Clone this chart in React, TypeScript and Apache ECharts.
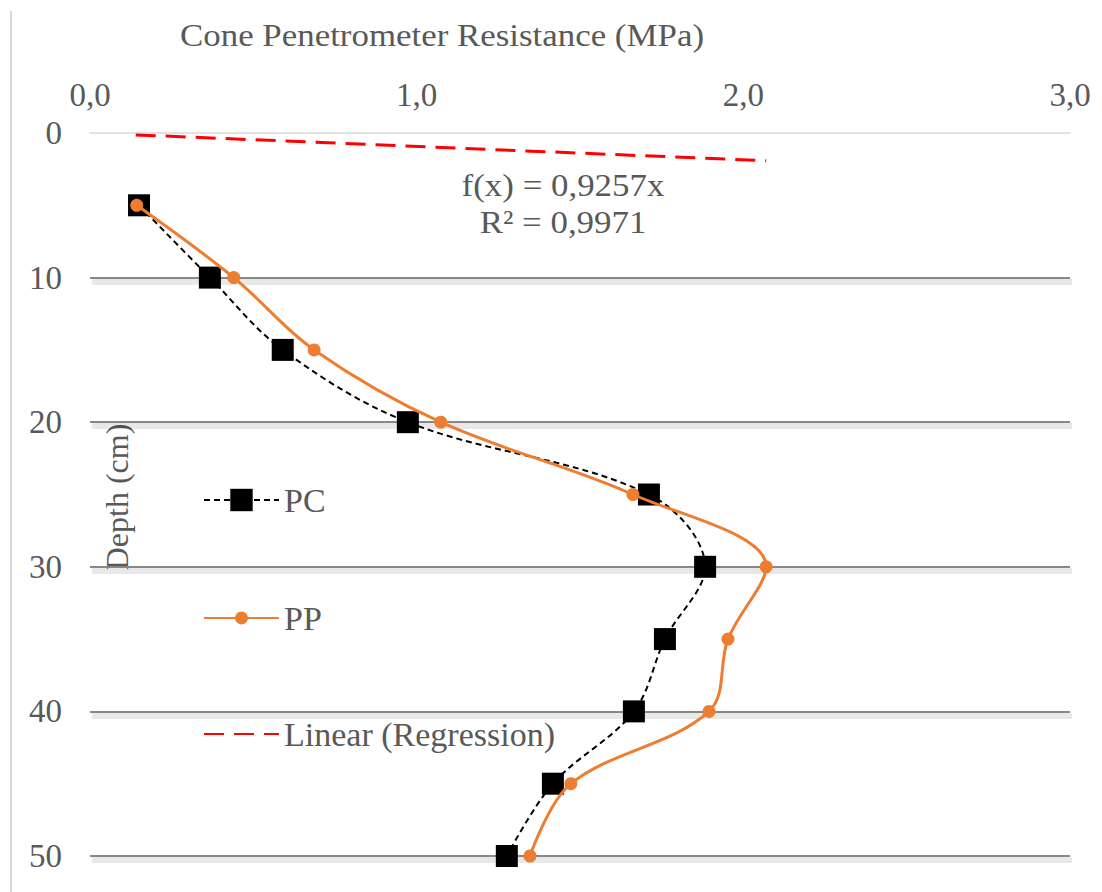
import React, { useEffect, useRef } from "react";
import * as echarts from "echarts";

const depths = [5, 10, 15, 20, 25, 30, 35, 40, 45, 50];
const pcValues = [0.15, 0.367, 0.59, 0.973, 1.711, 1.883, 1.76, 1.665, 1.417, 1.276];
const ppValues = [0.143, 0.44, 0.686, 1.074, 1.662, 2.07, 1.953, 1.895, 1.472, 1.347];
const regressionX = [0.14, 2.07];
const regressionY = [0.13, 1.92];
const equationLines = ["f(x) = 0,9257x", "R² = 0,9971"];
const xTitle = "Cone Penetrometer Resistance (MPa)";
const yTitle = "Depth (cm)";
const seriesNames = ["PC", "PP", "Linear (Regression)"];

const FONT = "Liberation Serif";
const TEXT = "#595959";

export default function App() {
  const ref = useRef<HTMLDivElement>(null);
  useEffect(() => {
    if (!ref.current) return;
    const chart = echarts.init(ref.current, undefined, { renderer: "svg" });
    const pcData = depths.map((d, i) => [pcValues[i], d]);
    const ppData = depths.map((d, i) => [ppValues[i], d]);
    const regData = regressionX.map((x, i) => [x, regressionY[i]]);
    const legendBase = {
      orient: "vertical",
      left: 198,
      itemWidth: 75,
      textStyle: { fontFamily: FONT, fontSize: 34, color: TEXT },
      selectedMode: false,
    };
    const gText = (text: string, x: number, y: number, extra: any = {}) => ({
      type: "text",
      x,
      y,
      ...extra,
      style: { text, fontFamily: FONT, fontSize: 32, fill: TEXT, align: "center", verticalAlign: "middle" },
    });
    chart.setOption({
      animation: false,
      backgroundColor: "#ffffff",
      textStyle: { fontFamily: FONT },
      grid: [
        { left: 90, right: 32, top: 133, bottom: 36, outerBoundsMode: "none", containLabel: false },
        { left: 92, right: 30, top: 137, bottom: 32, outerBoundsMode: "none", containLabel: false },
      ],
      xAxis: [
        {
          type: "value",
          position: "top",
          min: 0,
          max: 3,
          interval: 1,
          axisLine: { show: true, lineStyle: { color: "#d9d9d9", width: 1.5 } },
          axisTick: { show: false },
          splitLine: { show: false },
          axisLabel: {
            margin: 22,
            fontFamily: FONT,
            fontSize: 33,
            color: TEXT,
            formatter: (v: number) => v.toFixed(1).replace(".", ","),
          },
          z: 3,
        },
        { gridIndex: 1, type: "value", min: 0, max: 3, show: false },
      ],
      yAxis: [
        {
          type: "value",
          inverse: true,
          min: 0,
          max: 50,
          interval: 10,
          axisLine: { show: false },
          axisTick: { show: false },
          axisLabel: { margin: 28, fontFamily: FONT, fontSize: 33, color: TEXT },
          splitLine: {
            show: true,
            showMinLine: false,
            lineStyle: { color: "#888888", width: 2 },
          },
          z: 3,
        },
        {
          gridIndex: 1,
          type: "value",
          inverse: true,
          min: 0,
          max: 50,
          interval: 10,
          axisLine: { show: false },
          axisTick: { show: false },
          axisLabel: { show: false },
          splitLine: {
            show: true,
            showMinLine: false,
            lineStyle: { color: "rgba(0,0,0,0.09)", width: 6 },
          },
          z: 1,
        },
      ],
      legend: [
        { ...legendBase, top: 478, itemHeight: 28, data: [seriesNames[0]] },
        { ...legendBase, top: 596, itemHeight: 16, data: [seriesNames[1]] },
        { ...legendBase, top: 712, itemHeight: 16, data: [seriesNames[2]] },
      ],
      graphic: [
        {
          type: "line",
          shape: { x1: 11, y1: 11, x2: 11, y2: 892 },
          style: { stroke: "#d9d9d9", lineWidth: 2 },
        },
        gText(xTitle, 442, 35, { scaleX: 1.09 }),
        gText(yTitle, 117, 497, { rotation: Math.PI / 2 }),
        gText(equationLines[0], 563, 185, { scaleX: 1.09 }),
        gText(equationLines[1], 563, 222, { scaleX: 1.09 }),
      ],
      series: [
        {
          name: seriesNames[0],
          type: "line",
          data: pcData,
          smooth: 0.35,
          symbol: "rect",
          symbolSize: 22,
          itemStyle: { color: "#000000" },
          lineStyle: { color: "#000000", width: 2, type: [6, 4] },
          z: 4,
        },
        {
          name: seriesNames[1],
          type: "line",
          data: ppData,
          smooth: 0.35,
          symbol: "circle",
          symbolSize: 13,
          itemStyle: { color: "#ED7D31" },
          lineStyle: { color: "#ED7D31", width: 3 },
          z: 5,
        },
        {
          name: seriesNames[2],
          type: "line",
          data: regData,
          symbol: "none",
          itemStyle: { color: "rgba(0,0,0,0)" },
          lineStyle: { color: "#FF0000", width: 3, type: [20, 10] },
          z: 6,
        },
      ],
    });
    return () => chart.dispose();
  }, []);
  return (
    <div
      ref={ref}
      style={{ position: "fixed", left: 0, top: 0, width: 1102, height: 892, background: "#fff" }}
    />
  );
}
